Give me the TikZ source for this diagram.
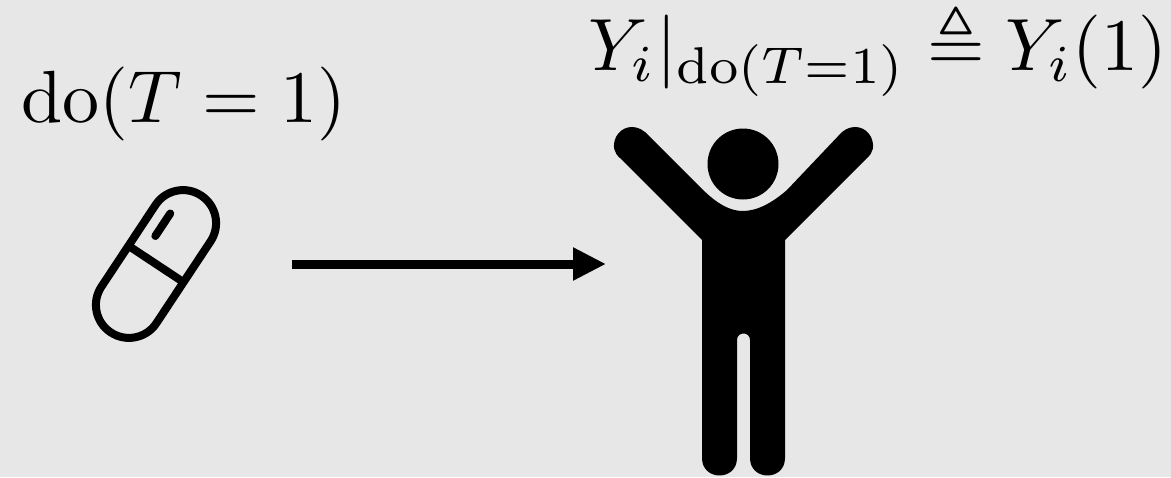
\documentclass[tikz,border=0pt]{standalone}
\usetikzlibrary{arrows.meta}
\usepackage{amsmath,amssymb}
\definecolor{bggray}{HTML}{E7E7E7}
\tikzset{
  label text/.style={inner sep=0pt,anchor=base west,text=black},
  pill line/.style={draw=black,line width=8pt,line cap=round,line join=round},
  main arrow/.style={draw=black,line width=9pt,-{Triangle[length=33pt,width=31pt]}}
}
\begin{document}
\begin{tikzpicture}[x=1pt,y=-1pt]
\fill[bggray] (0,0) rectangle (1171,477);
\useasboundingbox (0,0) rectangle (1171,477);
% labels
\node[label text,scale=7.4] (dolabel) at (20,122) {$\mathrm{do}(T=1)$};
\node[label text,scale=7.4] (ylabel) at (587,70) {$Y_i|_{\mathrm{do}(T=1)}\triangleq Y_i(1)$};
% pill
\begin{scope}[shift={(156,264)},rotate=56.5]
  \draw[pill line,rounded corners=32.9pt] (-82,-33) rectangle (82,33);
  \draw[pill line,line cap=butt] (0,-33) -- (0,33);
  \draw[pill line] (23,-16) -- (50,-16);
\end{scope}
% person
\fill[black] (743,164) circle[radius=35.5pt];
\fill[black] (645,132)
  .. controls (634,123) and (621,127) .. (616,137)
  .. controls (612,146) and (614,153) .. (620,158)
  -- (702,240) -- (702,458)
  .. controls (702,481.3) and (737,481.3) .. (737,458) -- (737,340)
  .. controls (737,331.3) and (750,331.3) .. (750,340) -- (750,458)
  .. controls (750,481.3) and (785,481.3) .. (785,458) -- (785,240)
  -- (867,158)
  .. controls (873,153) and (875,146) .. (871,137)
  .. controls (866,127) and (853,123) .. (842,132)
  -- (787,190)
  .. controls (772,203) and (757,211) .. (743,211)
  .. controls (727,211) and (713,200) .. (700,187)
  -- cycle;
% arrow
\coordinate (pillside) at (292,264);
\coordinate (personside) at (606,264);
\draw[main arrow] (pillside) -- (personside);
\end{tikzpicture}
\end{document}
